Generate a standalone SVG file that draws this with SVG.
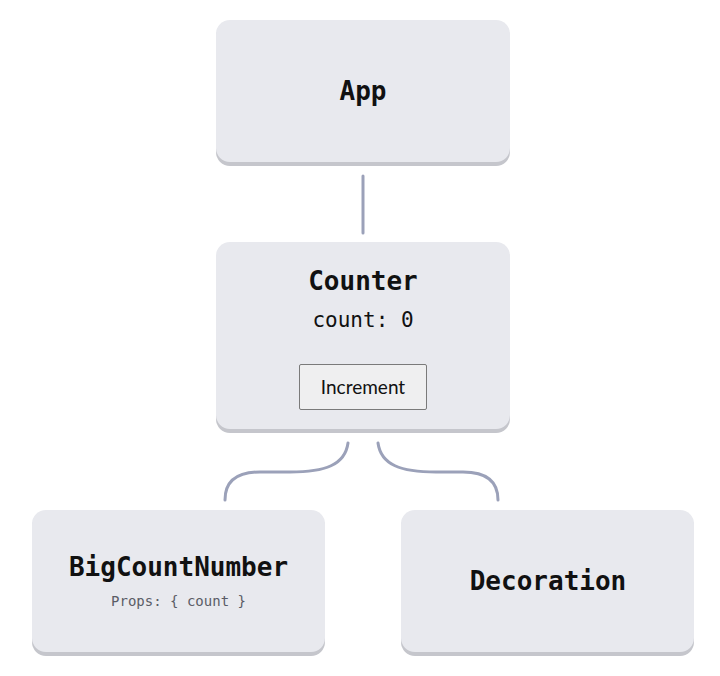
<svg xmlns="http://www.w3.org/2000/svg" width="720" height="676" viewBox="0 0 720 676">
<style>
.shadow{fill:#c5c6cc}
.box{fill:#e8e9ee}
.title{font-family:"DejaVu Sans Mono","Liberation Mono",monospace;font-weight:bold;font-size:26px;fill:#111;text-anchor:middle}
.sub{font-family:"DejaVu Sans Mono","Liberation Mono",monospace;font-size:21px;fill:#111;text-anchor:middle}
.props{font-family:"DejaVu Sans Mono","Liberation Mono",monospace;font-size:14px;fill:#5a5c66;text-anchor:middle}
.btn{fill:#efeff0;stroke:#7a7a7a;stroke-width:1}
.btntext{font-family:"Lato","Noto Sans",sans-serif;font-size:19px;fill:#111;text-anchor:middle}
.conn{fill:none;stroke:#9ba1b9;stroke-width:3;stroke-linecap:round}
</style>
<rect width="720" height="676" fill="#ffffff"/>
<g id="connectors">
<path class="conn" d="M363 176 V233"/>
<path class="conn" d="M348 443 C345 465 325 472 290 472 H260 C238 472 225 480 225 500"/>
<path class="conn" d="M378 443 C381 465 401 472 436 472 H463 C485 472 498 480 498 500"/>
</g>
<g id="app">
<rect class="shadow" x="216" y="23" width="294" height="143" rx="14"/>
<rect class="box" x="216" y="20" width="294" height="142" rx="14"/>
<text class="title" x="363" y="100">App</text>
</g>
<g id="counter">
<rect class="shadow" x="216" y="245" width="294" height="188" rx="14"/>
<rect class="box" x="216" y="242" width="294" height="187" rx="14"/>
<text class="title" x="363" y="290">Counter</text>
<text class="sub" x="363" y="327">count: 0</text>
<g id="increment">
<rect class="btn" x="299.5" y="364.5" width="127" height="45" rx="1.5"/>
<text class="btntext" x="363" y="394">Increment</text>
</g>
</g>
<g id="bigcountnumber">
<rect class="shadow" x="32" y="513" width="293" height="143" rx="14"/>
<rect class="box" x="32" y="510" width="293" height="142" rx="14"/>
<text class="title" x="178.5" y="576">BigCountNumber</text>
<text class="props" x="178.5" y="606">Props: { count }</text>
</g>
<g id="decoration">
<rect class="shadow" x="401" y="513" width="293" height="143" rx="14"/>
<rect class="box" x="401" y="510" width="293" height="142" rx="14"/>
<text class="title" x="548" y="590">Decoration</text>
</g>
</svg>
